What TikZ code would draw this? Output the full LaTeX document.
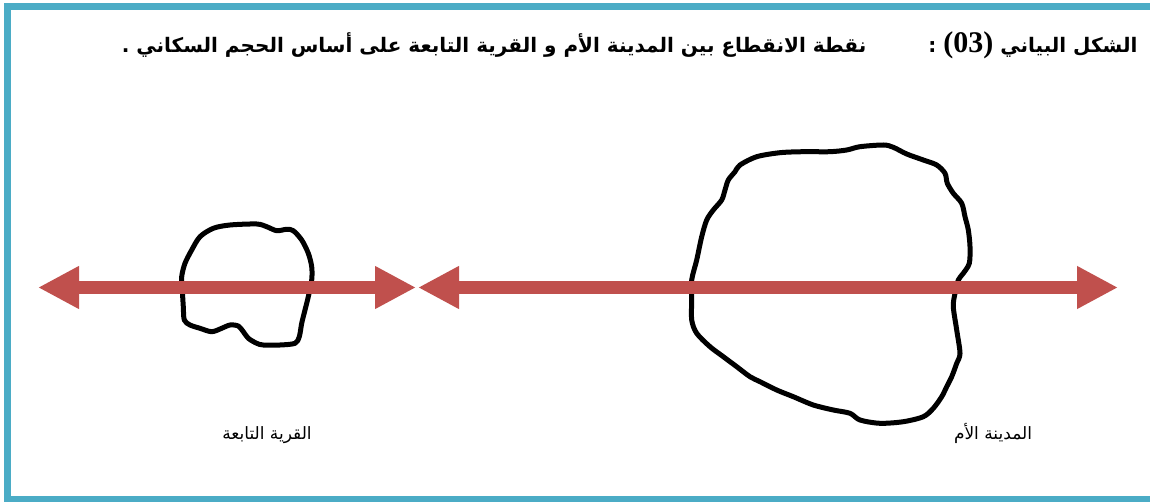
\documentclass[tikz,border=0pt]{standalone}
\usepackage{fontspec}
\usepackage{tikz}
\usetikzlibrary{arrows.meta}
\TeXXeTstate=1
\newfontfamily\arabicfont[Script=Arabic]{DejaVu Sans}
\newfontfamily\numfont{Liberation Serif}
\definecolor{frameblue}{HTML}{4BACC6}
\definecolor{arrowred}{HTML}{C0504D}

\begin{document}
\begin{tikzpicture}[x=1pt, y=-1pt,
	blob/.style={line width=5pt, line join=round},
	biarrow/.style={arrowred, line width=13pt,
		{Triangle[length=41pt,width=40pt]}-{Triangle[length=41pt,width=40pt]}},
	lbl/.style={font=\arabicfont\fontsize{17}{20}\selectfont}]
	\useasboundingbox (0,0) rectangle (1150,502);
	
	% --- الإطار ---
	\draw[frameblue, line width=7pt] (7.5,7) rectangle (1165,499.5);
	
	% --- العنوان ---
	\node[anchor=east, font=\arabicfont\bfseries\fontsize{20}{24}\selectfont] (title) at (1141,45)
	{\beginR الشكل البياني \beginL{\numfont\bfseries\fontsize{30}{32}\selectfont (03)}\endL{} :\hspace{62pt}نقطة الانقطاع بين المدينة الأم و القرية التابعة على أساس الحجم السكاني .\endR};
	
	% --- القرية التابعة (صغيرة) ---
	\draw[blob] plot[smooth cycle, tension=0.5] coordinates {
		(181.7,276.7) (185,263.3) (191.7,250) (200,236.7) (213.3,228.3) (230,225)
		(256.7,224) (266.7,226.7) (276.7,230.7) (286.7,229.3) (293.3,230.7)
		(301.7,240) (308.3,253.3) (311.7,266.7) (311.7,280) (308.3,296.7)
		(305,310) (301.7,323.3) (299.3,336.7) (295,343.3) (280,345) (263.3,345)
		(256.7,343.3) (248.3,338.3) (243.3,331.7) (238.3,326) (230,325)
		(221.7,328.3) (211.7,331.7) (200,328.3) (190,325) (184.3,320)
		(183.3,306.7) (182.3,290)};
	
	% --- المدينة الأم (كبيرة) ---
	\draw[blob] plot[smooth cycle, tension=0.5] coordinates {
		(691.7,280) (696.7,260) (701.7,236.7) (706.7,220) (713.3,210) (721.7,200)
		(725,190) (728.3,180) (735,171.7) (740,165) (756.7,156.7) (780,152.7)
		(803.3,151.7) (830,151.7) (846.7,150) (860,146.7) (883.3,145) (893.3,147.3)
		(906.7,154) (923.3,160) (936.7,165) (945,173.3) (947.3,183.3) (953.3,193.3)
		(961.7,203.3) (965,216.7) (968.3,230) (970,246.7) (969.3,263.3) (963.3,273.3)
		(958.3,280) (955,293.3) (953.3,306.7) (956.7,330) (960,353.3) (956.7,363.3)
		(951.7,376.7) (946.7,386.7) (941.7,396.7) (933.3,408.3) (923.3,416.7)
		(903.3,421.7) (880,423.3) (860,420) (850,413.3) (833.3,410) (813.3,405)
		(793.3,396.7) (776.7,390) (760,381.7) (750,376.7) (736.7,366.7)
		(723.3,356.7) (710,346.7) (696.7,333.3) (691.7,320) (691.7,300)};
	
	% --- الأسهم ---
	\coordinate (vilW) at (38,287.5);
	\coordinate (vilE) at (416,287.5);
	\coordinate (citW) at (418,287.5);
	\coordinate (citE) at (1118,287.5);
	\draw[biarrow] (vilW) -- (vilE);
	\draw[biarrow] (citW) -- (citE);
	
	% --- التسميات ---
	\node[lbl] (lblVillage) at (267,435) {\beginR القرية التابعة\endR};
	\node[lbl] (lblCity) at (993,433) {\beginR المدينة الأم\endR};
\end{tikzpicture}
\end{document}
